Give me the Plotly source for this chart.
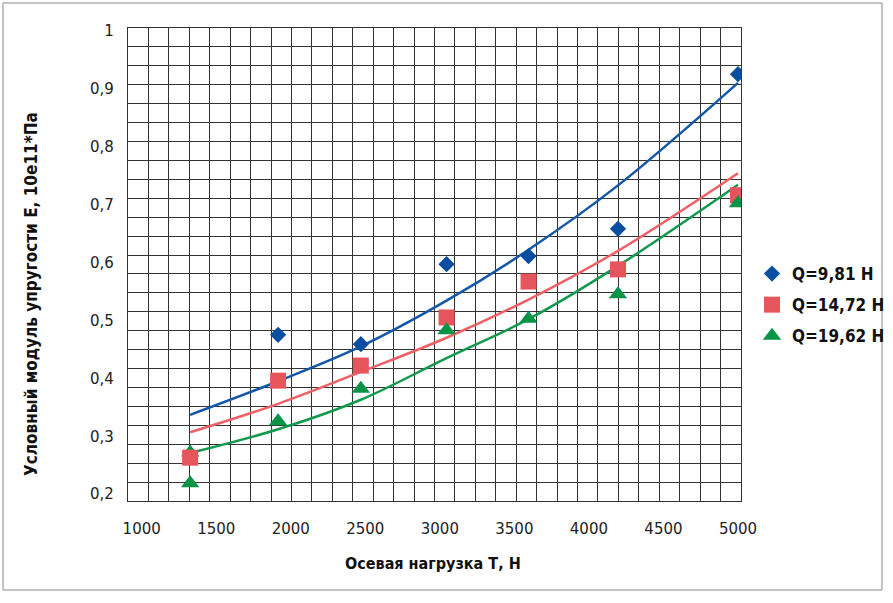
import plotly.graph_objects as go

# ---- data ----
x_load = [1325, 1915, 2470, 3045, 3595, 4195, 5000]

q981_x = [1915, 2470, 3045, 3595, 4195, 5000]
q981_y = [0.475, 0.459, 0.597, 0.611, 0.658, 0.925]

q1472_x = [1325, 1915, 2470, 3045, 3595, 4195, 5000]
q1472_y = [0.263, 0.396, 0.422, 0.505, 0.567, 0.588, 0.716]

q1962_x = [1325, 1915, 2470, 3045, 3595, 4195, 5000]
q1962_y = [0.219, 0.326, 0.382, 0.483, 0.503, 0.545, 0.702]
# second Q=19,62 point at the first load, partly hidden behind the square
q1962_extra_x = [1325]
q1962_extra_y = [0.272]

# trend lines (read at the load positions)
trend981 = [0.337, 0.395, 0.455, 0.534, 0.622, 0.733, 0.910]
trend1472 = [0.307, 0.356, 0.411, 0.470, 0.536, 0.620, 0.754]
trend1962 = [0.271, 0.312, 0.363, 0.435, 0.502, 0.594, 0.734]

names = ["Q=9,81 Н", "Q=14,72 Н", "Q=19,62 Н"]

x_ticks = [1000, 1500, 2000, 2500, 3000, 3500, 4000, 4500, 5000]
y_ticks = [0.2, 0.3, 0.4, 0.5, 0.6, 0.7, 0.8, 0.9, 1.0]
y_ticktext = ["0,2", "0,3", "0,4", "0,5", "0,6", "0,7", "0,8", "0,9", "1"]

x_title = "Осевая нагрузка Т, Н"
y_title = "Условный модуль упругости Е, 10е11*Па"

# ---- styling ----
BLUE = "#0a4ea2"
RED = "#e6555b"
GREEN = "#079447"
BLUE_L = "#1457a8"
RED_L = "#ee6066"
GREEN_L = "#129a4c"
BOLD = "DejaVu Sans Condensed, Liberation Sans Narrow, DejaVu Sans, sans-serif"
REG = "DejaVu Sans, sans-serif"

X_RANGE = [908.1, 5020.2]
Y_RANGE = [0.18825, 1.00466]

fig = go.Figure()

for xs, ys, col in [(x_load, trend981, BLUE_L), (x_load, trend1472, RED_L), (x_load, trend1962, GREEN_L)]:
    fig.add_trace(go.Scatter(x=xs, y=ys, mode="lines", line=dict(color=col, width=2.5, shape="spline"),
                             showlegend=False, hoverinfo="skip"))

fig.add_trace(go.Scatter(x=q1962_extra_x, y=q1962_extra_y, mode="markers", showlegend=False,
                         legendgroup="c", name=names[2],
                         marker=dict(symbol="triangle-up", size=16, color=GREEN)))
fig.add_trace(go.Scatter(x=q981_x, y=q981_y, mode="markers", name=names[0], legendgroup="a",
                         marker=dict(symbol="diamond", size=12.5, color=BLUE)))
fig.add_trace(go.Scatter(x=q1472_x, y=q1472_y, mode="markers", name=names[1], legendgroup="b",
                         marker=dict(symbol="square", size=16, color=RED)))
fig.add_trace(go.Scatter(x=q1962_x, y=q1962_y, mode="markers", name=names[2], legendgroup="c",
                         marker=dict(symbol="triangle-up", size=16, color=GREEN)))

grid_col = "#333333"
fig.update_xaxes(range=X_RANGE, tickmode="array", tickvals=x_ticks, showgrid=False,
                 ticks="outside", ticklen=0, ticklabelstandoff=14,
                 tickfont=dict(family=REG, size=15, color="#222"),
                 showline=True, mirror=True, linecolor=grid_col, linewidth=1.3, zeroline=False,
                 minor=dict(tick0=X_RANGE[0], dtick=(X_RANGE[1] - X_RANGE[0]) / 30, showgrid=True,
                            gridcolor=grid_col, gridwidth=1.3, ticks=""))
fig.update_yaxes(range=Y_RANGE, tickmode="array", tickvals=y_ticks, ticktext=y_ticktext, showgrid=False,
                 ticks="outside", ticklen=0, ticklabelstandoff=10,
                 tickfont=dict(family=REG, size=15, color="#222"),
                 showline=True, mirror=True, linecolor=grid_col, linewidth=1.3, zeroline=False,
                 minor=dict(tick0=Y_RANGE[0], dtick=(Y_RANGE[1] - Y_RANGE[0]) / 25, showgrid=True,
                            gridcolor=grid_col, gridwidth=1.3, ticks=""))

W, H = 893, 603
L, R, T, B = 128, 152, 28, 102
pw, ph = W - L - R, H - T - B

def px(xp):
    return (xp - L) / pw

def py(yp):
    return (H - B - yp) / ph

fig.add_annotation(x=px(433), y=py(563), xref="paper", yref="paper", text=x_title, showarrow=False,
                   font=dict(family=BOLD, size=16, color="#111", weight="bold"),
                   xanchor="center", yanchor="middle")
fig.add_annotation(x=px(31), y=py(294), xref="paper", yref="paper", text=y_title, showarrow=False,
                   textangle=-90, font=dict(family=BOLD, size=17, color="#111", weight="bold"),
                   xanchor="center", yanchor="middle")

fig.add_shape(type="rect", xref="paper", yref="paper", x0=px(3), x1=px(882), y0=py(3), y1=py(590),
              line=dict(color="#8a8a8a", width=1), layer="below")

fig.update_layout(
    width=W, height=H,
    margin=dict(l=L, r=R, t=T, b=B, autoexpand=False),
    paper_bgcolor="white", plot_bgcolor="white",
    showlegend=True,
    legend=dict(x=px(752), y=py(256), xanchor="left", yanchor="top", tracegroupgap=6,
                font=dict(family=BOLD, size=17, color="#111", weight="bold"), bgcolor="rgba(0,0,0,0)"),
)

fig.write_html("out.html")
